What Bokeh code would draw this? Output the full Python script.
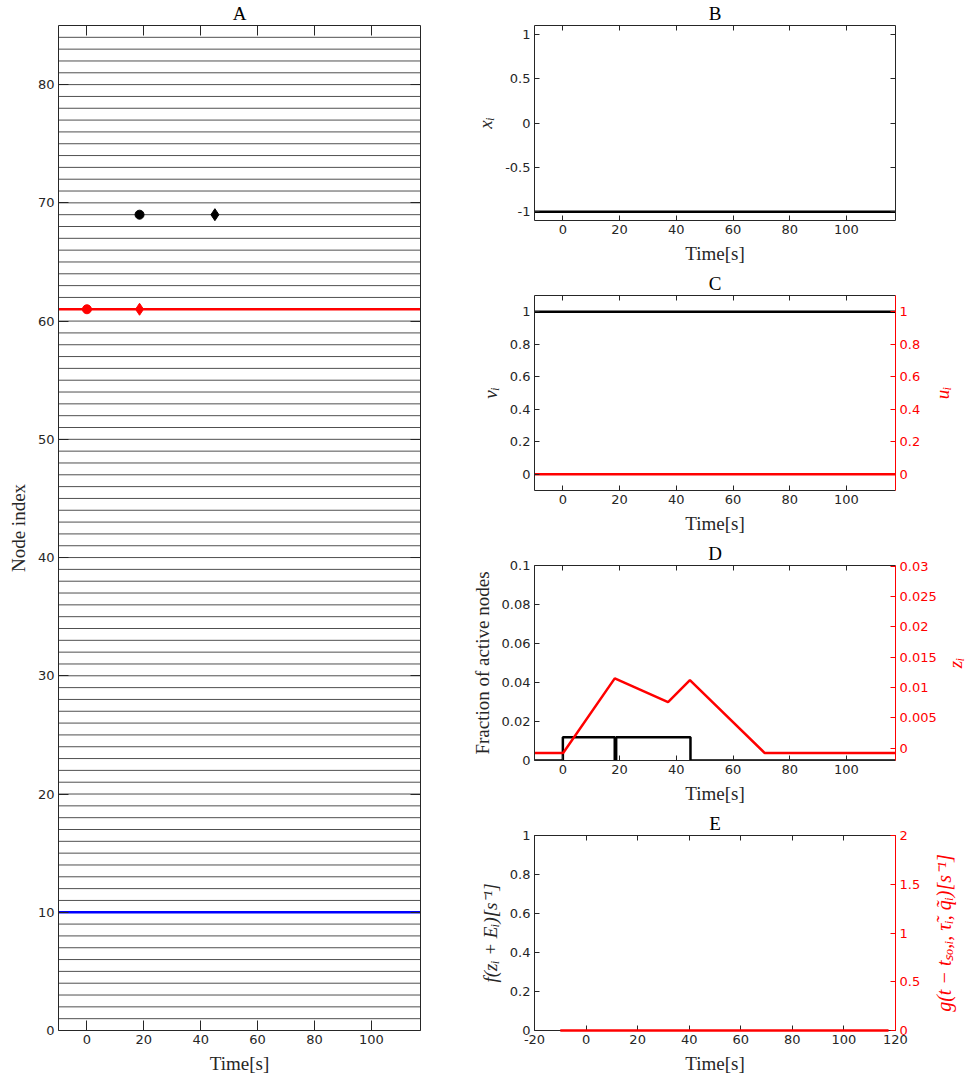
import math
from bokeh.plotting import figure
from bokeh.layouts import row, column
from bokeh.models import LinearAxis, Range1d, FixedTicker, CustomJSTickFormatter
from bokeh.core.properties import value
from bokeh.embed import file_html
from bokeh.resources import INLINE

# ---------------- data ----------------
node_index = list(range(1, 85))
t_min, t_max = -10, 117.3
time_ticks = [0, 20, 40, 60, 80, 100]
node_ticks = [0, 10, 20, 30, 40, 50, 60, 70, 80]

red_node = 61
blue_node = 10
black_node = 69
red_onset, red_offset = 0, 18.5
black_onset, black_offset = 18.5, 45

xi_t = [-10, 117.3]
xi_v = [-1, -1]
vi_t = [-10, 117.3]
vi_v = [1, 1]
ui_t = [-10, 117.3]
ui_v = [0, 0]

frac_t = [-10, 0, 0, 18.3, 18.3, 18.8, 18.8, 45, 45, 117.3]
frac_v = [0, 0, 0.0119, 0.0119, 0, 0, 0.0119, 0.0119, 0, 0]
z_t = [-10, 0.1, 18.3, 37.1, 44.8, 71.2, 117.3]
z_v = [-0.0008, -0.0008, 0.0115, 0.0076, 0.0112, -0.0008, -0.0008]

g_t = [-10, 117.3]
g_v = [0, 0]

AX = "#262626"
fmt = CustomJSTickFormatter(code="return String(parseFloat(tick.toPrecision(10)));")


def style(ax, color=AX, tick=5):
    ax.axis_line_color = color
    ax.major_tick_line_color = color
    ax.major_tick_in = tick
    ax.major_tick_out = 0
    ax.minor_tick_line_color = None
    ax.major_label_text_font = "DejaVu Sans"
    ax.major_label_text_color = color
    ax.major_label_text_font_size = "13px"
    ax.major_label_standoff = 4
    ax.formatter = fmt
    ax.axis_label_text_font = "Liberation Serif"
    ax.axis_label_text_font_style = "normal"
    ax.axis_label_text_font_size = "19px"
    ax.axis_label_text_color = color
    ax.axis_label_standoff = 6


def box_axis(ticks, tick, color=AX, **kw):
    ax = LinearAxis(ticker=FixedTicker(ticks=[], minor_ticks=ticks), **kw)
    ax.axis_line_color = color
    ax.major_tick_line_color = None
    ax.minor_tick_line_color = color
    ax.minor_tick_in = tick
    ax.minor_tick_out = 0
    ax.major_label_standoff = 0
    return ax


def make_fig(w, h, xr, yr, title, left, right, top, bottom, xticks, yticks, tick):
    p = figure(width=w, height=h, x_range=Range1d(*xr), y_range=Range1d(*yr),
               output_backend="svg", toolbar_location=None, title=title,
               min_border_left=left, min_border_right=right,
               min_border_top=top, min_border_bottom=bottom)
    p.title.align = "center"
    p.title.vertical_align = "top"
    p.title.text_font = "Liberation Serif"
    p.title.text_font_style = "normal"
    p.title.text_font_size = "19px"
    p.title.text_color = "black"
    p.title.standoff = 0
    p.xgrid.visible = False
    p.ygrid.visible = False
    p.outline_line_color = None
    p.background_fill_color = "white"
    p.border_fill_color = "white"
    bx = p.below[0]
    ly = p.left[0]
    bx.ticker = FixedTicker(ticks=xticks)
    ly.ticker = FixedTicker(ticks=yticks)
    style(bx, tick=tick)
    style(ly, tick=tick)
    bx.axis_label = "Time[s]"
    p.add_layout(box_axis(xticks, tick), "above")
    return p, bx, ly


def add_red_right(p, name, rng, yticks, tick=5):
    p.extra_y_ranges = {name: Range1d(*rng)}
    ax = LinearAxis(y_range_name=name, ticker=FixedTicker(ticks=yticks))
    style(ax, color="red", tick=tick)
    p.add_layout(ax, "right")
    return ax


def right_label(width, yr, label, x_px, size="19px"):
    """Narrow strip holding a red axis title that reads bottom-to-top."""
    q = figure(width=width, height=270, x_range=Range1d(0, width), y_range=Range1d(*yr),
               output_backend="svg", toolbar_location=None,
               min_border_left=0, min_border_right=0, min_border_top=25, min_border_bottom=50)
    q.axis.visible = False
    q.grid.visible = False
    q.outline_line_color = None
    q.border_fill_color = "white"
    q.text(x=[x_px], y=[(yr[0] + yr[1]) / 2], text=[label], angle=math.pi / 2,
           text_align="center", text_baseline="middle",
           text_font=value("Liberation Serif"), text_font_style="italic",
           text_font_size=size, text_color="red")
    return q


# ---------------- Panel A ----------------
pA, bxA, lyA = make_fig(460, 1080, (t_min, t_max), (0, 85), "A", 58, 40, 25, 50,
                        time_ticks, node_ticks, 10)
pA.add_layout(box_axis(node_ticks, 10), "right")
lyA.axis_label = "Node index"
pA.segment(x0=[t_min] * len(node_index), x1=[t_max] * len(node_index),
           y0=node_index, y1=node_index, line_color="#505050", line_width=1)
pA.segment(x0=[t_min], x1=[t_max], y0=[red_node], y1=[red_node], line_color="red", line_width=2.5)
pA.segment(x0=[t_min], x1=[t_max], y0=[blue_node], y1=[blue_node], line_color="blue", line_width=2.5)
pA.scatter([black_onset], [black_node], marker="circle", size=9, color="black")
pA.scatter([black_offset], [black_node], marker="diamond", size=12, color="black")
pA.scatter([red_onset], [red_node], marker="circle", size=9, color="red")
pA.scatter([red_offset], [red_node], marker="diamond", size=12, color="red")

# ---------------- Panel B ----------------
b_ticks = [-1, -0.5, 0, 0.5, 1]
pB, bxB, lyB = make_fig(507, 270, (t_min, t_max), (-1.1, 1.1), "B", 74, 72, 25, 50,
                        time_ticks, b_ticks, 5)
pB.add_layout(box_axis(b_ticks, 5), "right")
lyB.axis_label = "xᵢ"
lyB.axis_label_text_font_style = "italic"
pB.line(xi_t, xi_v, line_color="black", line_width=2.5)

# ---------------- Panel C ----------------
c_ticks = [0, 0.2, 0.4, 0.6, 0.8, 1]
pC, bxC, lyC = make_fig(470, 270, (t_min, t_max), (-0.1, 1.1), "C", 74, 35, 25, 50,
                        time_ticks, c_ticks, 5)
add_red_right(pC, "u", (-0.1, 1.1), c_ticks)
lyC.axis_label = "vᵢ"
lyC.axis_label_text_font_style = "italic"
pC.line(vi_t, vi_v, line_color="black", line_width=2.5)
pC.line(ui_t, ui_v, line_color="red", line_width=2.5, y_range_name="u")
labC = right_label(37, (-0.1, 1.1), "uᵢ", 12)

# ---------------- Panel D ----------------
d_ticks = [0, 0.02, 0.04, 0.06, 0.08, 0.1]
dz_ticks = [0, 0.005, 0.01, 0.015, 0.02, 0.025, 0.03]
pD, bxD, lyD = make_fig(482, 270, (t_min, t_max), (0, 0.1), "D", 74, 47, 25, 50,
                        time_ticks, d_ticks, 5)
add_red_right(pD, "z", (-0.00203, 0.0301), dz_ticks)
lyD.axis_label = "Fraction of active nodes"
pD.line(frac_t, frac_v, line_color="black", line_width=2.5)
pD.line(z_t, z_v, line_color="red", line_width=2.5, y_range_name="z")
labD = right_label(25, (0, 0.1), "zᵢ", 13)

# ---------------- Panel E ----------------
e_xticks = [-20, 0, 20, 40, 60, 80, 100, 120]
e_ticks = [0, 0.2, 0.4, 0.6, 0.8, 1]
pE, bxE, lyE = make_fig(470, 270, (-20, 120), (0, 1), "E", 74, 35, 25, 50,
                        e_xticks, e_ticks, 5)
add_red_right(pE, "g", (0, 2), [0, 0.5, 1, 1.5, 2])
lyE.axis_label = "f(zᵢ + Eᵢ)[s⁻¹]"
lyE.axis_label_text_font_style = "italic"
rE = pE.line(g_t, g_v, line_color="red", line_width=2.5, y_range_name="g")
rE.level = "overlay"
labE = right_label(37, (0, 1), "g(t − tₛₒ,ᵢ, τ̃ᵢ, q̃ᵢ)[s⁻¹]", 13, size="20px")

layout = row(pA, column(pB, row(pC, labC), row(pD, labD), row(pE, labE)))
open("out.html", "w").write(file_html(layout, INLINE))
